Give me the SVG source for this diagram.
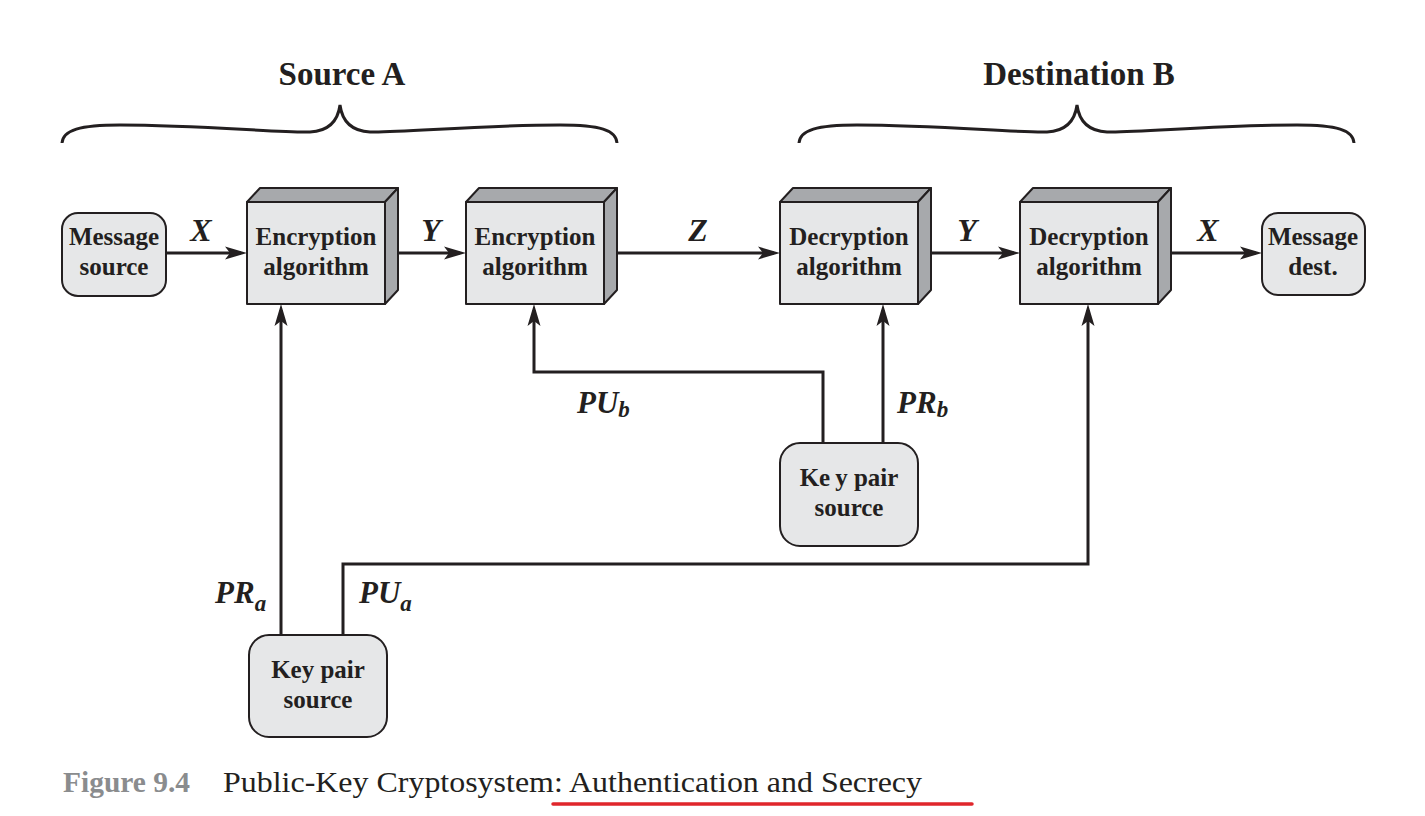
<svg xmlns="http://www.w3.org/2000/svg" width="1425" height="816" viewBox="0 0 1425 816">
<style>
  .face{fill:#e6e7e8;stroke:#231f20;stroke-width:2;stroke-linejoin:round}
  .side{fill:#a7a9ac;stroke:#231f20;stroke-width:2;stroke-linejoin:round}
  .rbox{fill:#e6e7e8;stroke:#231f20;stroke-width:2}
  .bt{font-family:"Liberation Serif","Times New Roman",Times,serif;font-weight:bold;font-size:25px;fill:#231f20;text-anchor:middle}
  .lbl{font-family:"Liberation Serif","Times New Roman",Times,serif;font-weight:bold;font-style:italic;font-size:32px;fill:#231f20}
  .key{font-family:"Liberation Serif","Times New Roman",Times,serif;font-weight:bold;font-style:italic;font-size:31px;fill:#231f20}
  .sub{font-size:23px}
  .title{font-family:"Liberation Serif","Times New Roman",Times,serif;font-weight:bold;font-size:33px;fill:#231f20;text-anchor:middle}
  .cap{font-family:"Liberation Serif","Times New Roman",Times,serif;font-size:30px}
  .conn{fill:none;stroke:#231f20;stroke-width:3}
  .brace{fill:none;stroke:#231f20;stroke-width:3}
</style>
<defs>
  <marker id="arr" viewBox="0 0 22 14" markerWidth="22" markerHeight="14" refX="16" refY="7" orient="auto" markerUnits="userSpaceOnUse">
    <path d="M0,0.5 L22,7 L0,13.5 L5,7 z" fill="#231f20"/>
  </marker>
  <path id="bracePath" d="M62,143 C63,130 80,125 120,125 C200,125 280,133 310,132 C330,131 338,120 340,105 C342,120 350,131 370,132 C400,133 480,125 560,125 C600,125 616,130 617,143"/>
</defs>
<rect width="1425" height="816" fill="#ffffff"/>

<g id="source-a-label">
  <use href="#bracePath" class="brace"/>
  <text class="title" x="342" y="85">Source A</text>
</g>
<g id="destination-b-label">
  <use href="#bracePath" class="brace" transform="translate(737,0)"/>
  <text class="title" x="1079" y="85">Destination B</text>
</g>

<g id="connectors">
  <path class="conn" d="M166,253 H241" marker-end="url(#arr)"/>
  <path class="conn" d="M385,253 H460" marker-end="url(#arr)"/>
  <path class="conn" d="M603,253 H774" marker-end="url(#arr)"/>
  <path class="conn" d="M917,253 H1014" marker-end="url(#arr)"/>
  <path class="conn" d="M1157,253 H1256" marker-end="url(#arr)"/>
  <path class="conn" d="M281,635 V310" marker-end="url(#arr)"/>
  <path class="conn" d="M343,635 V564 H1088 V310" marker-end="url(#arr)"/>
  <path class="conn" d="M823,443 V372 H534 V310" marker-end="url(#arr)"/>
  <path class="conn" d="M883,443 V310" marker-end="url(#arr)"/>
  <text class="lbl" x="201" y="241" text-anchor="middle">X</text>
  <text class="lbl" x="431" y="241" text-anchor="middle">Y</text>
  <text class="lbl" x="698" y="241" text-anchor="middle">Z</text>
  <text class="lbl" x="967" y="241" text-anchor="middle">Y</text>
  <text class="lbl" x="1208" y="241" text-anchor="middle">X</text>
  <text class="key" x="577" y="413">PU<tspan class="sub" dy="4">b</tspan></text>
  <text class="key" x="897" y="413">PR<tspan class="sub" dy="4">b</tspan></text>
  <text class="key" x="215" y="603">PR<tspan class="sub" dy="8">a</tspan></text>
  <text class="key" x="359" y="603">PU<tspan class="sub" dy="8">a</tspan></text>
</g>

<g id="message-source">
  <rect class="rbox" x="62" y="213" width="104" height="83" rx="16"/>
  <text class="bt" x="114" y="245">Message</text>
  <text class="bt" x="114" y="275">source</text>
</g>

<g id="encryption-1">
  <path class="side" d="M247,202 L260,188 L398,188 L385,202 Z"/>
  <path class="side" d="M385,202 L398,188 L398,290 L385,304 Z"/>
  <rect class="face" x="247" y="202" width="138" height="102"/>
  <text class="bt" x="316" y="245">Encryption</text>
  <text class="bt" x="316" y="275">algorithm</text>
</g>

<g id="encryption-2">
  <path class="side" d="M466,202 L479,188 L617,188 L604,202 Z"/>
  <path class="side" d="M604,202 L617,188 L617,290 L604,304 Z"/>
  <rect class="face" x="466" y="202" width="138" height="102"/>
  <text class="bt" x="535" y="245">Encryption</text>
  <text class="bt" x="535" y="275">algorithm</text>
</g>

<g id="decryption-1">
  <path class="side" d="M780,202 L793,188 L931,188 L918,202 Z"/>
  <path class="side" d="M918,202 L931,188 L931,290 L918,304 Z"/>
  <rect class="face" x="780" y="202" width="138" height="102"/>
  <text class="bt" x="849" y="245">Decryption</text>
  <text class="bt" x="849" y="275">algorithm</text>
</g>

<g id="decryption-2">
  <path class="side" d="M1020,202 L1033,188 L1171,188 L1158,202 Z"/>
  <path class="side" d="M1158,202 L1171,188 L1171,290 L1158,304 Z"/>
  <rect class="face" x="1020" y="202" width="138" height="102"/>
  <text class="bt" x="1089" y="245">Decryption</text>
  <text class="bt" x="1089" y="275">algorithm</text>
</g>

<g id="message-dest">
  <rect class="rbox" x="1262" y="213" width="103" height="82" rx="16"/>
  <text class="bt" x="1313" y="245">Message</text>
  <text class="bt" x="1313" y="275">dest.</text>
</g>

<g id="key-pair-source-b">
  <rect class="rbox" x="780" y="443" width="138" height="103" rx="20"/>
  <text class="bt" x="849" y="486">Ke<tspan dx="5">y pair</tspan></text>
  <text class="bt" x="849" y="516">source</text>
</g>

<g id="key-pair-source-a">
  <rect class="rbox" x="249" y="635" width="138" height="102" rx="20"/>
  <text class="bt" x="318" y="678">Key pair</text>
  <text class="bt" x="318" y="708">source</text>
</g>

<g id="caption">
  <text class="cap" x="63" y="792" font-weight="bold" fill="#8a8c8e" textLength="127" lengthAdjust="spacingAndGlyphs">Figure 9.4</text>
  <text class="cap" x="223" y="792" fill="#231f20" textLength="699" lengthAdjust="spacingAndGlyphs">Public-Key Cryptosystem: Authentication and Secrecy</text>
  <line x1="553" y1="804" x2="972" y2="804" stroke="#e0262b" stroke-width="3.5" stroke-linecap="round"/>
</g>
</svg>
